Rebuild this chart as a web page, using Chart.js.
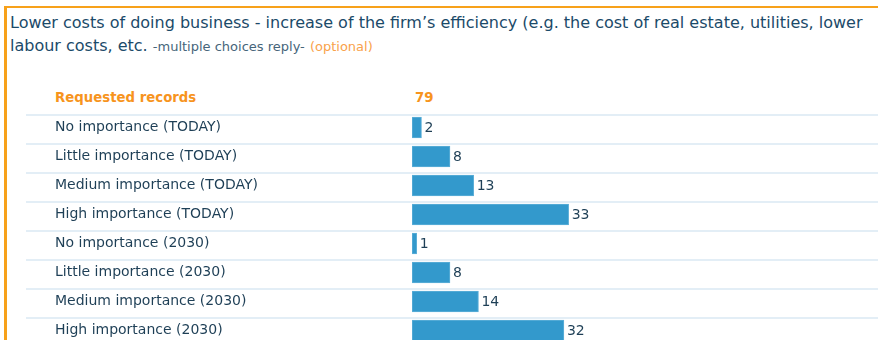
<!DOCTYPE html>
<html>
<head>
<meta charset="utf-8">
<script src="https://cdn.jsdelivr.net/npm/chart.js@4/dist/chart.umd.min.js"></script>
<style>
  html, body { margin: 0; padding: 0; background: #fff; overflow: hidden; width: 878px; height: 340px; }
  body { position: relative; font-family: 'DejaVu Sans', sans-serif; }
  .panel { position: absolute; left: 4px; top: 6px; right: 0; bottom: -10px;
           border-top: 2px solid #f7a11a; border-left: 3px solid #f7a11a; }
  .title { position: absolute; left: 10px; top: 11px; font-size: 16px; line-height: 23.4px;
           color: #1b4a69; white-space: nowrap; }
  .hint { font-size: 13px; color: #46657a; }
  .opt { font-size: 13px; color: #f9a24b; }
  .head { position: absolute; top: 91px; font-size: 13.3px; line-height: 14px; font-weight: bold; color: #f7941d; }
  #wrap { position: absolute; left: 26px; top: 113px; width: 852px; height: 232px; }
</style>
</head>
<body>
<div class="panel"></div>
<div class="title">Lower costs of doing business - increase of the firm’s efficiency (e.g. the cost of real estate, utilities, lower<br>labour costs, etc. <span class="hint">-multiple choices reply-</span> <span class="opt">(optional)</span></div>
<div class="head" style="left:55px">Requested records</div>
<div class="head" id="total" style="left:415px"></div>
<div id="wrap"><canvas id="answers" width="852" height="232"></canvas></div>

<script>
const categories = [
    'No importance (TODAY)',
    'Little importance (TODAY)',
    'Medium importance (TODAY)',
    'High importance (TODAY)',
    'No importance (2030)',
    'Little importance (2030)',
    'Medium importance (2030)',
    'High importance (2030)'
];
const responses = [2, 8, 13, 33, 1, 8, 14, 32];
const requestedRecords = 79;

const fontFamily = "'DejaVu Sans', sans-serif";
const textColor = '#1e3f56';

document.getElementById('total').textContent = requestedRecords;

// light separator above every answer row, full width of the panel
const rowLines = {
    id: 'rowLines',
    beforeDatasetsDraw(chart) {
        const ctx = chart.ctx;
        const y = chart.scales.y;
        ctx.save();
        ctx.fillStyle = '#e3eef6';
        categories.forEach((c, i) => {
            const top = Math.round(y.getPixelForValue(i) - 12.5);
            ctx.fillRect(0, top - 1, chart.width, 2);
        });
        ctx.restore();
    }
};

// count printed right after each bar
const valueLabels = {
    id: 'valueLabels',
    afterDatasetsDraw(chart) {
        const ctx = chart.ctx;
        const meta = chart.getDatasetMeta(0);
        ctx.save();
        ctx.font = '14px ' + fontFamily;
        ctx.fillStyle = textColor;
        ctx.textAlign = 'left';
        ctx.textBaseline = 'middle';
        meta.data.forEach((bar, i) => {
            ctx.fillText(String(responses[i]), bar.x + 3, bar.y + 1);
        });
        ctx.restore();
    }
};

new Chart(document.getElementById('answers'), {
    type: 'bar',
    data: {
        labels: categories,
        datasets: [{
            data: responses,
            backgroundColor: '#3399cc',
            borderColor: '#5fb0d8',
            borderWidth: 1,
            borderSkipped: false,
            barThickness: 21
        }]
    },
    options: {
        indexAxis: 'y',
        responsive: false,
        animation: false,
        layout: { padding: { left: 29, right: 91, top: 0, bottom: 0 } },
        plugins: {
            legend: { display: false },
            tooltip: { enabled: false }
        },
        scales: {
            x: { display: false, min: 0, max: requestedRecords },
            y: {
                grid: { display: false },
                border: { display: false },
                ticks: {
                    crossAlign: 'far',
                    padding: 0,
                    color: textColor,
                    font: { family: fontFamily, size: 14 }
                },
                afterFit(scale) {
                    scale.width = 357;
                    scale.paddingTop = 0;
                    scale.paddingBottom = 0;
                }
            }
        }
    },
    plugins: [rowLines, valueLabels]
});
</script>
</body>
</html>
